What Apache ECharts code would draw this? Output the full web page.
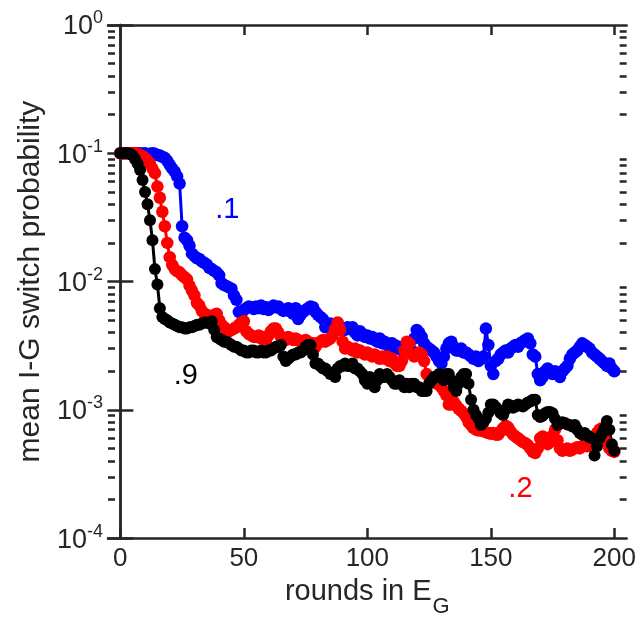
<!DOCTYPE html>
<html><head><meta charset="utf-8">
<script src="https://cdn.jsdelivr.net/npm/echarts@6/dist/echarts.min.js"></script>
<style>html,body{margin:0;padding:0;background:#fff}#c{width:639px;height:623px}</style>
</head><body><div id="c"></div>
<script>
const xTicks = [0, 50, 100, 150, 200];
const yTicks = [1e-4, 1e-3, 1e-2, 1e-1, 1];
const yMinorTicks = [2e-4,3e-4,4e-4,5e-4,6e-4,7e-4,8e-4,9e-4,2e-3,3e-3,4e-3,5e-3,6e-3,7e-3,8e-3,9e-3,2e-2,3e-2,4e-2,5e-2,6e-2,7e-2,8e-2,9e-2,0.2,0.3,0.4,0.5,0.6,0.7,0.8,0.9];

const blue = [
0.1,0.1,0.1,0.1,0.1,0.1,0.1,0.1,0.1,0.099,0.1,0.098,0.099,0.1,
0.099,0.097,0.096,0.094,0.092,0.087,0.081,0.076,0.072,0.066,0.058,
0.027,0.022,0.021,0.019,0.0165,0.0158,0.0152,0.015,0.0143,0.014,0.0136,
0.0128,0.0125,0.0121,0.0118,0.0112,0.0097,0.0094,0.0092,0.009,0.0088,0.0078,0.0072,
0.0058,0.0056,0.006,0.0062,0.0064,0.0063,0.0061,0.0064,0.0062,0.0065,0.0061,0.0063,0.006,
0.0062,0.0065,0.0063,0.0064,0.0061,0.0059,0.006,0.0062,0.0058,0.0056,0.0062,0.0051,0.0055,0.0058,0.006,
0.0062,0.0064,0.0063,0.0058,0.0055,0.0053,0.0051,0.0044,0.0046,0.0047,0.0045,0.0046,0.0047,0.0044,0.0043,
0.0042,0.0044,0.0043,0.0044,0.004,0.0038,0.0041,0.0039,0.0037,0.0038,0.0036,0.0037,0.0035,0.0034,0.0036,
0.0033,0.0034,0.0032,0.0031,0.0033,0.0032,0.003,0.0031,0.0029,0.003,0.0031,0.0033,0.0029,0.0036,0.0042,
0.004,0.0037,0.0033,0.0031,0.003,0.0029,0.0028,0.0026,0.0024,0.0023,0.0026,0.003,0.0033,0.0034,0.0031,
0.0029,0.0029,0.003,0.0028,0.0028,0.0027,0.0026,0.0025,0.0026,0.0024,0.0025,0.0026,0.0043,0.0032,0.0022,
0.0019,0.0024,0.0025,0.0027,0.0028,0.0029,0.0028,0.003,0.0031,0.0032,0.0031,0.0033,0.0034,0.0035,0.0036,0.0033,0.0027,
0.0026,0.0019,0.0017,0.0018,0.002,0.0021,0.002,0.0019,0.002,0.0019,0.0018,0.002,0.0021,0.0022,0.0025,0.0027,0.0028,0.0029,
0.0031,0.0033,0.0032,0.0031,0.003,0.0028,0.0027,0.0026,0.0025,0.0024,0.0023,0.0022,0.0023,0.0021,0.002
];

const red = [
0.1,0.1,0.1,0.1,0.1,0.1,0.1,0.099,
0.097,0.095,0.092,0.088,0.083,0.076,0.07,0.055,0.045,
0.035,0.027,0.02,0.0155,0.0135,0.0125,0.012,0.0118,
0.0112,0.0108,0.0104,0.0093,0.0085,0.0078,0.0068,0.0065,0.0059,0.0056,0.0055,
0.0052,0.005,0.0055,0.0056,0.005,0.0046,0.0044,0.0042,0.0041,0.0042,0.0043,0.0044,0.0046,0.0048,0.0049,
0.0041,0.0039,0.0038,0.0037,0.0037,0.0038,0.0036,0.0037,0.0035,0.0038,0.0041,0.0043,0.0043,0.004,0.0037,
0.0036,0.0035,0.0037,0.0036,0.0035,0.0036,0.0035,0.0034,0.0034,0.0035,0.0034,0.0033,0.0033,0.0031,0.0033,
0.0034,0.0035,0.0034,0.0035,0.0036,0.0038,0.0043,0.0048,0.0042,0.0034,0.003,0.0031,0.003,0.0029,0.003,
0.0028,0.0029,0.0028,0.0027,0.0028,0.0027,0.0026,0.0027,0.0026,0.0025,0.0026,0.0025,0.0026,0.0024,0.0025,
0.0023,0.0022,0.0022,0.0024,0.0029,0.0034,0.0033,0.0027,0.0026,0.0027,0.0028,0.0027,0.0024,0.0019,0.0018,
0.0017,0.0017,0.0016,0.0016,0.0015,0.0014,0.0013,0.0011,0.0011,0.00115,0.00108,0.00102,0.00098,0.00094,0.00088,
0.0008,0.00076,0.00072,0.0007,0.00069,0.0007,0.00068,0.00067,0.00066,0.00065,0.00066,0.00064,0.00064,0.00068,0.00072,
0.00075,0.00073,0.00068,0.00064,0.00062,0.0006,0.00058,0.00056,0.00055,0.00053,0.0005,0.00047,0.00046,0.0005,0.0006,
0.00062,0.00057,0.00054,0.00056,0.00063,0.0007,0.00058,0.0005,0.00048,0.00049,0.0005,0.00048,0.00049,0.0005,0.00051,
0.0005,0.00052,0.00053,0.00052,0.00055,0.00058,0.00062,0.00066,0.0007,0.00072,0.00065,0.00056,0.0005,0.00048,0.00047
];

const black = [
0.1,0.1,0.1,0.1,0.099,0.096,0.09,0.083,0.074,
0.062,0.05,0.04,0.03,0.021,0.0125,0.0095,0.0062,0.0053,
0.0051,0.005,0.0048,0.0047,0.0046,0.0045,0.0044,0.0044,0.0043,0.0043,0.0044,0.0044,0.0045,
0.0046,0.0046,0.0047,0.0048,0.0048,0.0047,0.0049,0.0042,0.0037,0.0036,0.0035,0.0034,0.0034,0.0033,0.0032,
0.0031,0.0031,0.003,0.0029,0.0029,0.0028,0.0028,0.0029,0.0029,0.0028,0.0028,0.0029,0.0028,0.0028,0.0029,
0.0029,0.003,0.0031,0.0031,0.0032,0.0026,0.0024,0.0025,0.0026,0.0027,0.0027,0.0028,0.0028,0.0029,0.0031,
0.0032,0.0032,0.0027,0.0023,0.0023,0.0022,0.0021,0.0021,0.002,0.0019,0.0019,0.0018,0.0021,0.0022,0.0022,
0.0023,0.0022,0.0022,0.0023,0.0021,0.0021,0.002,0.0019,0.0017,0.0016,0.0018,0.0017,0.0015,0.0017,0.0019,
0.0018,0.0018,0.0019,0.0018,0.0017,0.0016,0.0016,0.0017,0.0016,0.0015,0.0016,0.0015,0.0016,0.0016,0.0015,
0.0015,0.0014,0.0014,0.0014,0.0016,0.0017,0.0018,0.0018,0.0019,0.0018,0.0017,0.0019,0.0019,0.0017,0.0015,
0.0014,0.0016,0.0018,0.0019,0.0019,0.0016,0.0012,0.001,0.00091,0.00085,0.00076,0.0008,0.00085,0.00095,0.0011,
0.0011,0.00105,0.001,0.00094,0.00091,0.001,0.0011,0.00108,0.00104,0.00106,0.0011,0.00108,0.00106,0.0011,0.00114,
0.00116,0.0012,0.0012,0.00091,0.00088,0.0009,0.00094,0.00096,0.00096,0.00094,0.00085,0.00076,0.00078,0.0008,0.00079,
0.00077,0.00076,0.00074,0.00076,0.0007,0.00066,0.00064,0.00066,0.00063,0.00061,0.0006,0.00044,0.00052,0.0006,0.00065,0.00072,0.00082,0.0007,0.00054,0.00048
];

const labelText = [
  {text: '.1', x: 43.3, y: 0.036, color: '#0000ff'},
  {text: '.2', x: 162, y: 0.00024, color: '#ff0000'},
  {text: '.9', x: 26.5, y: 0.00185, color: '#000000'}
];

const AX = '#262626';
const FONT = '"Liberation Sans", Arial, Helvetica, sans-serif';

function pairs(arr){ return arr.map((v,i)=>[i, v]); }

function mk(name, arr, color, lab, size){
  return {
    name, type: 'line', data: pairs(arr), xAxisIndex: 0, yAxisIndex: 0,
    symbol: 'circle', symbolSize: size, showSymbol: true,
    lineStyle: {color, width: 3}, itemStyle: {color, borderWidth: 0},
    animation: false, silent: true,
    markPoint: {
      symbol: 'circle', symbolSize: 0, silent: true, animation: false,
      data: [{coord: [lab.x, lab.y], value: lab.text,
        label: {show: true, position: 'inside', formatter: lab.text, color: lab.color,
          fontSize: 29, fontFamily: FONT}}]
    }
  };
}

const chart = echarts.init(document.getElementById('c'), null, {renderer: 'canvas'});
const baseX = {type: 'value', min: -5, max: 205, gridIndex: 0,
  axisLine: {show: true, onZero: false, lineStyle: {color: AX, width: 2.5}},
  splitLine: {show: false}};
const baseY = {type: 'log', logBase: 10, min: 1e-4, max: 1, gridIndex: 0,
  axisLine: {show: true, lineStyle: {color: AX, width: 2.5}},
  splitLine: {show: false}};

chart.setOption({
  backgroundColor: '#fff',
  animation: false,
  grid: {left: 108, right: 10, top: 25, bottom: 79, containLabel: false},
  xAxis: [
    Object.assign({}, baseX, {position: 'bottom',
      axisTick: {show: true, inside: true, length: 10, customValues: xTicks, lineStyle: {color: AX, width: 2.5}},
      axisLabel: {show: true, customValues: xTicks, color: AX, fontSize: 26, fontFamily: FONT, margin: 8},
      name: '{a|rounds in E}{g|G}', nameLocation: 'middle', nameGap: 20,
      nameTextStyle: {color: AX, fontFamily: FONT, rich: {
        a: {fontSize: 29, lineHeight: 29, verticalAlign: 'top', color: AX, fontFamily: FONT},
        g: {fontSize: 22, lineHeight: 41, verticalAlign: 'bottom', padding: [0,0,0,1], color: AX, fontFamily: FONT}
      }}
    }),
    Object.assign({}, baseX, {position: 'top',
      axisTick: {show: true, inside: true, length: 10, customValues: xTicks, lineStyle: {color: AX, width: 2.5}},
      axisLabel: {show: false}})
  ],
  yAxis: [
    Object.assign({}, baseY, {position: 'left',
      axisTick: {show: true, inside: true, length: 13, customValues: yTicks, lineStyle: {color: AX, width: 2.5}},
      axisLabel: {show: true, customValues: yTicks, margin: 5,
        formatter: function(v){ const e = Math.round(Math.log10(v)); return '{b|10}{s|' + e + '}'; },
        rich: {
          b: {fontSize: 27, lineHeight: 31, verticalAlign: 'bottom', color: AX, fontFamily: FONT},
          s: {fontSize: 18, lineHeight: 18, verticalAlign: 'top', color: AX, fontFamily: FONT}
        }},
      name: 'mean I-G switch probability', nameLocation: 'middle', nameGap: 50, nameRotate: 90,
      nameTextStyle: {color: AX, fontSize: 30, fontFamily: FONT}
    }),
    Object.assign({}, baseY, {position: 'right',
      axisTick: {show: true, inside: true, length: 13, customValues: yTicks, lineStyle: {color: AX, width: 2.5}},
      axisLabel: {show: false}}),
    Object.assign({}, baseY, {position: 'left', axisLine: {show: false},
      axisTick: {show: true, inside: true, length: 7, customValues: yMinorTicks, lineStyle: {color: AX, width: 2.5}},
      axisLabel: {show: false}}),
    Object.assign({}, baseY, {position: 'right', axisLine: {show: false},
      axisTick: {show: true, inside: true, length: 7, customValues: yMinorTicks, lineStyle: {color: AX, width: 2.5}},
      axisLabel: {show: false}})
  ],
  series: [
    mk('.1', blue, '#0000ff', labelText[0], 12.5),
    mk('.2', red, '#ff0000', labelText[1], 12.5),
    mk('.9', black, '#000000', labelText[2], 12)
  ]
});
</script>
</body></html>
